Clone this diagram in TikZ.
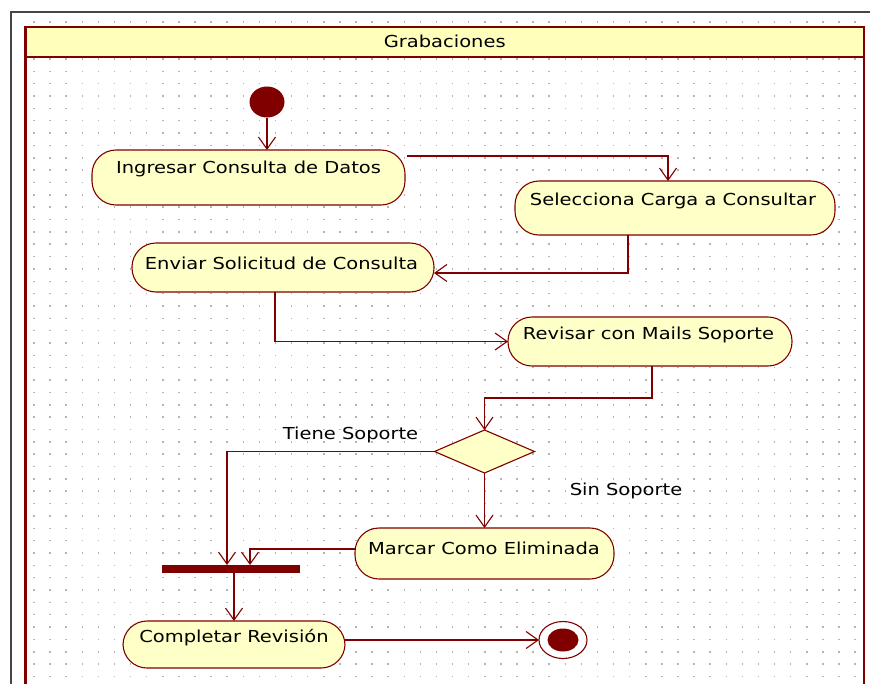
\documentclass[tikz,border=0pt]{standalone}
\usepackage{fontspec}
\newfontfamily\umlfont[FakeStretch=1.18]{DejaVu Sans}
\usetikzlibrary{arrows.meta,shapes.geometric,calc}
\definecolor{umlred}{HTML}{800000}
\definecolor{umlfill}{HTML}{FFFFC8}
\definecolor{umlhead}{HTML}{FFFFBB}
\definecolor{griddot}{HTML}{B4B4B4}
\definecolor{framegray}{HTML}{454545}
\begin{document}
\begin{tikzpicture}[x=1pt,y=-1pt,
  every node/.style={inner sep=0pt, outer sep=0pt},
  txtfont/.style={font=\umlfont\fontsize{16.5}{19}\selectfont, text=black},
  txt/.style={txtfont, yshift=-2pt},
  act/.style={rectangle, draw=umlred, fill=umlfill, line width=1.1pt, rounded corners=24pt},
  decision/.style={diamond, draw=umlred, fill=umlfill, line width=1.1pt},
  forkbar/.style={rectangle, fill=umlred},
  flow/.style={draw=umlred, line width=1.2pt,
    -{Straight Barb[length=12pt,width=17pt,line width=1.1pt]}},
  dotrow/.style={griddot, line width=1.5pt, dash pattern=on 1.5pt off 14.6pt}
]
\useasboundingbox (0,0) rectangle (870,683);
\fill[white] (0,0) rectangle (870,683);

% dotted background grid
\foreach \k in {0,...,53}{
  \pgfmathsetmacro\yy{21.9+12.35*\k}
  \draw[dotrow] (33.25,\yy) -- (872,\yy);
}

% outer frame and swimlane
\draw[framegray, line width=2pt] (11,690) -- (11,12) -- (880,12);
\draw[umlred, line width=2.6pt] (25.5,690) -- (25.5,27) -- (864,27) -- (864,690);
\node[rectangle, draw=umlred, fill=umlhead, line width=2.6pt,
      minimum width=838.5pt, minimum height=30pt, txtfont, text depth=2pt] (lane) at (444.75,42) {Grabaciones};

% nodes
\node[ellipse, fill=umlred, minimum width=35pt, minimum height=31pt] (start) at (267,102) {};

\node[act, minimum width=313pt, minimum height=55pt] (ingresar) at (248.5,177.5) {};
\node[txt] (ingresar-t) at (248.5,167) {Ingresar Consulta de Datos};

\node[act, minimum width=320pt, minimum height=54pt] (selecciona) at (675,208) {};
\node[txt] (selecciona-t) at (673,199) {Selecciona Carga a Consultar};

\node[act, minimum width=302pt, minimum height=49pt] (enviar) at (283,267.5) {};
\node[txt] (enviar-t) at (281.5,261) {Enviar Solicitud de Consulta};

\node[act, minimum width=284pt, minimum height=49pt] (revisar) at (650,341.5) {};
\node[txt] (revisar-t) at (648.5,333) {Revisar con Mails Soporte};

\node[decision, minimum width=100pt, minimum height=43pt] (decision) at (484.5,451.5) {};
\node[txt] (tiene) at (350.5,433) {Tiene Soporte};
\node[txt] (sin) at (626,489) {Sin Soporte};

\node[act, minimum width=259pt, minimum height=51pt] (marcar) at (484.5,553.5) {};
\node[txt] (marcar-t) at (484,546) {Marcar Como Eliminada};

\node[forkbar, minimum width=138pt, minimum height=8pt] (fork) at (231,569) {};

\node[act, minimum width=222pt, minimum height=47pt] (completar) at (234,644.5) {};
\node[txt] (completar-t) at (234,636) {Completar Revisión};

\node[ellipse, draw=umlred, fill=white, line width=1.1pt, minimum width=48pt, minimum height=37pt] (final) at (563,640) {};
\node[ellipse, fill=umlred, minimum width=31pt, minimum height=23pt] (final-dot) at (final.center) {};

% control flows
\draw[flow] (start.south) -- (ingresar.north -| start);
\draw[flow] ($(ingresar.north east)+(2,6)$) -| ($(selecciona.north)+(-7,0)$);
\draw[flow] ($(selecciona.south)+(-47,0)$) |- ($(enviar.east)+(0,5.5)$);
\draw[flow] ($(enviar.south)+(-8,0)$) |- (revisar.west);
\draw[flow] ($(revisar.south)+(2,0)$) -- ++(0,32) -| (decision.north);
\draw[flow] (decision.west) -| ($(fork.north)+(-4,0)$);
\draw[flow] (decision.south) -- (marcar.north -| decision.south);
\draw[flow] ($(marcar.west)+(0,-4.5)$) -| ($(fork.north)+(19,0)$);
\draw[flow] (fork.south -| completar.north) -- (completar.north);
\draw[flow] ($(completar.east)+(0,-4.5)$) -- (final.west);
\end{tikzpicture}
\end{document}
